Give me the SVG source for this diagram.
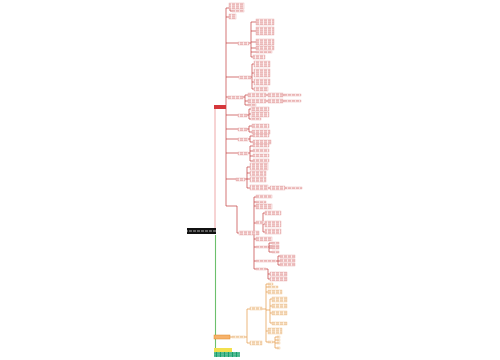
<svg xmlns="http://www.w3.org/2000/svg" width="500" height="360" viewBox="0 0 500 360">
<defs>
<pattern id="pr" width="4" height="2" patternUnits="userSpaceOnUse"><rect width="4" height="2" fill="#fdf2f2"/><rect x="0" y="0.6" width="3" height="0.7" fill="#d46a6a"/></pattern>
<pattern id="po" width="4" height="2" patternUnits="userSpaceOnUse"><rect width="4" height="2" fill="#fff6ea"/><rect x="0" y="0.6" width="3" height="0.7" fill="#dc9a52"/></pattern>
<pattern id="pw" x="1" width="4" height="6" patternUnits="userSpaceOnUse"><rect width="4" height="6" fill="#111111"/><rect x="0" y="2.6" width="3" height="0.8" fill="#cfcfcf"/></pattern>
<pattern id="pg" x="1" width="4" height="2" patternUnits="userSpaceOnUse"><rect width="4" height="2" fill="#17a06b"/><rect x="0" y="0.6" width="3" height="0.7" fill="#bfe8d6"/></pattern>
</defs>
<style>
.n rect{fill:url(#pr);stroke:#e6a6a6;stroke-width:0.4}
.o rect{fill:url(#po);stroke:#eec08a;stroke-width:0.4}
.c path{fill:none;stroke:#c23a3a;stroke-width:0.7}
.c .pk{stroke:#eea8a8;stroke-width:1}
.c .gr{stroke:#6cc06c;stroke-width:1.1}
.c .or{stroke:#e49a45;stroke-width:0.7}
</style>
<rect width="500" height="360" fill="#ffffff"/>
<g id="connectors" class="c">
<path class="pk" d="M215 107V228"/>
<path class="gr" d="M215.5 235V355"/>
<path d="M226 8V206H237V233H239"/>
<path d="M226 8H229M226 17H229M226 43H238M226 77H239M226 97H228M226 115H238M226 129H238M226 139H238M226 153H238M226 179H236"/>
<path d="M230 9V11H232"/>
<path d="M249 43H251M251 22V57M251 22H256M251 31H256M251 42H256M251 48H256M251 52H256M251 57H253"/>
<path d="M251 77H252M252 64V89M252 64H254M252 73H254M252 82H254M252 89H254"/>
<path d="M243 97H245M245 95V105M245 95H248M245 101H248M245 105H248M266 95H268M283 95H284M266 101H268M283 101H284"/>
<path d="M247 115H249M249 109V119M249 109H251M249 114H251M249 119H251"/>
<path d="M247 129H249M249 126V132M249 126H252M249 132H252"/>
<path d="M248 139H250M250 136V142M250 136H253M250 142H253"/>
<path d="M248 153H250M250 146V161M250 146H253M250 151H253M250 156H253M250 161H253"/>
<path d="M245 179H247M247 167V188M247 167H250M247 173H250M247 179H250M247 188H250M268 188H270M285 188H286"/>
<path d="M259 233H254M254 197V269M254 197H256M254 202H256M254 206H256M254 223H256M254 239H256M254 247H256M254 261H256M254 269H256"/>
<path d="M264 223H263M263 213V232M263 213H265M263 224H265M263 232H265"/>
<path d="M268 247H269M269 243V252M269 243H272M269 246H272M269 248H272M269 252H272"/>
<path d="M276 261H278M278 256V265M278 256H280M278 261H280M278 265H280"/>
<path d="M266 269H268M268 269V279M268 274H270M268 279H270"/>
<path class="or" d="M230 337H232M245 337H247M247 309V343M247 309H250M247 343H250"/>
<path class="or" d="M262 309H266M266 284V342M266 284H268M266 287H268M266 292H268M266 310H270M270 299V323M270 299H272M270 306H272M270 313H272M270 323H272M266 331H268M266 342H268M273 342H275M275 337V348M275 337H277M275 343H277M275 340H277M275 348H277"/>
</g>
<g id="root"><rect x="187" y="228" width="29" height="6" fill="url(#pw)"/></g>
<g id="m1"><rect x="214" y="105" width="12" height="4" fill="#d5373b"/></g>
<g id="nA" class="n"><rect x="229" y="3" width="15" height="6"/><rect x="232" y="10" width="12" height="2"/></g>
<g id="nB" class="n"><rect x="229" y="14" width="7" height="5"/></g>
<g id="nC" class="n"><rect x="238" y="42" width="11" height="3"/><rect x="256" y="19" width="18" height="6"/><rect x="256" y="27" width="18" height="8"/><rect x="256" y="39" width="18" height="6"/><rect x="256" y="46" width="18" height="4"/><rect x="256" y="51" width="16" height="2"/><rect x="253" y="55" width="12" height="4"/></g>
<g id="nD" class="n"><rect x="239" y="76" width="12" height="3"/><rect x="254" y="61" width="16" height="6"/><rect x="254" y="69" width="16" height="8"/><rect x="254" y="79" width="16" height="6"/><rect x="254" y="87" width="14" height="4"/></g>
<g id="nE" class="n"><rect x="228" y="96" width="15" height="3"/><rect x="248" y="93" width="18" height="4"/><rect x="268" y="93" width="15" height="4"/><rect x="284" y="94" width="17" height="2"/><rect x="248" y="99" width="18" height="4"/><rect x="268" y="99" width="15" height="4"/><rect x="284" y="100" width="17" height="2"/><rect x="248" y="104" width="8" height="2"/></g>
<g id="nF" class="n"><rect x="238" y="114" width="9" height="3"/><rect x="251" y="107" width="18" height="4"/><rect x="251" y="112" width="18" height="5"/><rect x="251" y="118" width="10" height="2"/></g>
<g id="nG" class="n"><rect x="238" y="128" width="9" height="3"/><rect x="252" y="124" width="17" height="4"/><rect x="252" y="130" width="18" height="4"/></g>
<g id="nH" class="n"><rect x="238" y="138" width="10" height="3"/><rect x="253" y="134" width="16" height="3"/><rect x="253" y="140" width="18" height="4"/></g>
<g id="nI" class="n"><rect x="238" y="152" width="10" height="3"/><rect x="253" y="144" width="16" height="3"/><rect x="253" y="149" width="16" height="3"/><rect x="253" y="154" width="16" height="3"/><rect x="253" y="159" width="16" height="3"/></g>
<g id="nJ" class="n"><rect x="236" y="178" width="9" height="3"/><rect x="250" y="163" width="18" height="7"/><rect x="250" y="171" width="16" height="5"/><rect x="250" y="177" width="16" height="5"/><rect x="250" y="185" width="18" height="5"/><rect x="270" y="186" width="15" height="4"/><rect x="286" y="187" width="16" height="2"/></g>
<g id="nK" class="n"><rect x="239" y="231" width="20" height="4"/><rect x="256" y="195" width="16" height="3"/><rect x="256" y="201" width="10" height="2"/><rect x="256" y="204" width="16" height="5"/><rect x="256" y="221" width="8" height="3"/><rect x="265" y="211" width="16" height="4"/><rect x="265" y="221" width="16" height="6"/><rect x="265" y="229" width="16" height="5"/><rect x="256" y="237" width="16" height="4"/><rect x="256" y="246" width="12" height="2"/><rect x="272" y="242" width="7" height="2"/><rect x="272" y="245" width="7" height="2"/><rect x="272" y="247" width="7" height="2"/><rect x="272" y="251" width="7" height="2"/><rect x="256" y="260" width="20" height="2"/><rect x="280" y="255" width="15" height="3"/><rect x="280" y="259" width="15" height="3"/><rect x="280" y="263" width="15" height="3"/><rect x="256" y="268" width="10" height="2"/><rect x="270" y="272" width="17" height="4"/><rect x="270" y="277" width="17" height="4"/></g>
<g id="nO"><rect x="214" y="335" width="16" height="4" fill="#f6b26b" stroke="#e08a2a" stroke-width="0.5"/></g>
<g id="nO1" class="o"><rect x="232" y="336" width="13" height="2"/><rect x="250" y="307" width="12" height="3"/><rect x="250" y="341" width="12" height="4"/><rect x="268" y="283" width="5" height="2"/><rect x="268" y="286" width="10" height="2"/><rect x="268" y="290" width="14" height="4"/><rect x="272" y="297" width="15" height="5"/><rect x="272" y="304" width="15" height="4"/><rect x="272" y="311" width="15" height="4"/><rect x="272" y="322" width="15" height="3"/><rect x="268" y="328" width="14" height="6"/><rect x="268" y="341" width="5" height="2"/><rect x="277" y="336" width="3" height="2"/><rect x="277" y="339" width="3" height="2"/><rect x="277" y="342" width="3" height="2"/><rect x="277" y="347" width="3" height="2"/></g>
<g id="nY"><rect x="214" y="348" width="18" height="4" fill="#f2e04e"/></g>
<g id="nGr"><rect x="214" y="352" width="26" height="5" fill="url(#pg)"/></g>
</svg>
